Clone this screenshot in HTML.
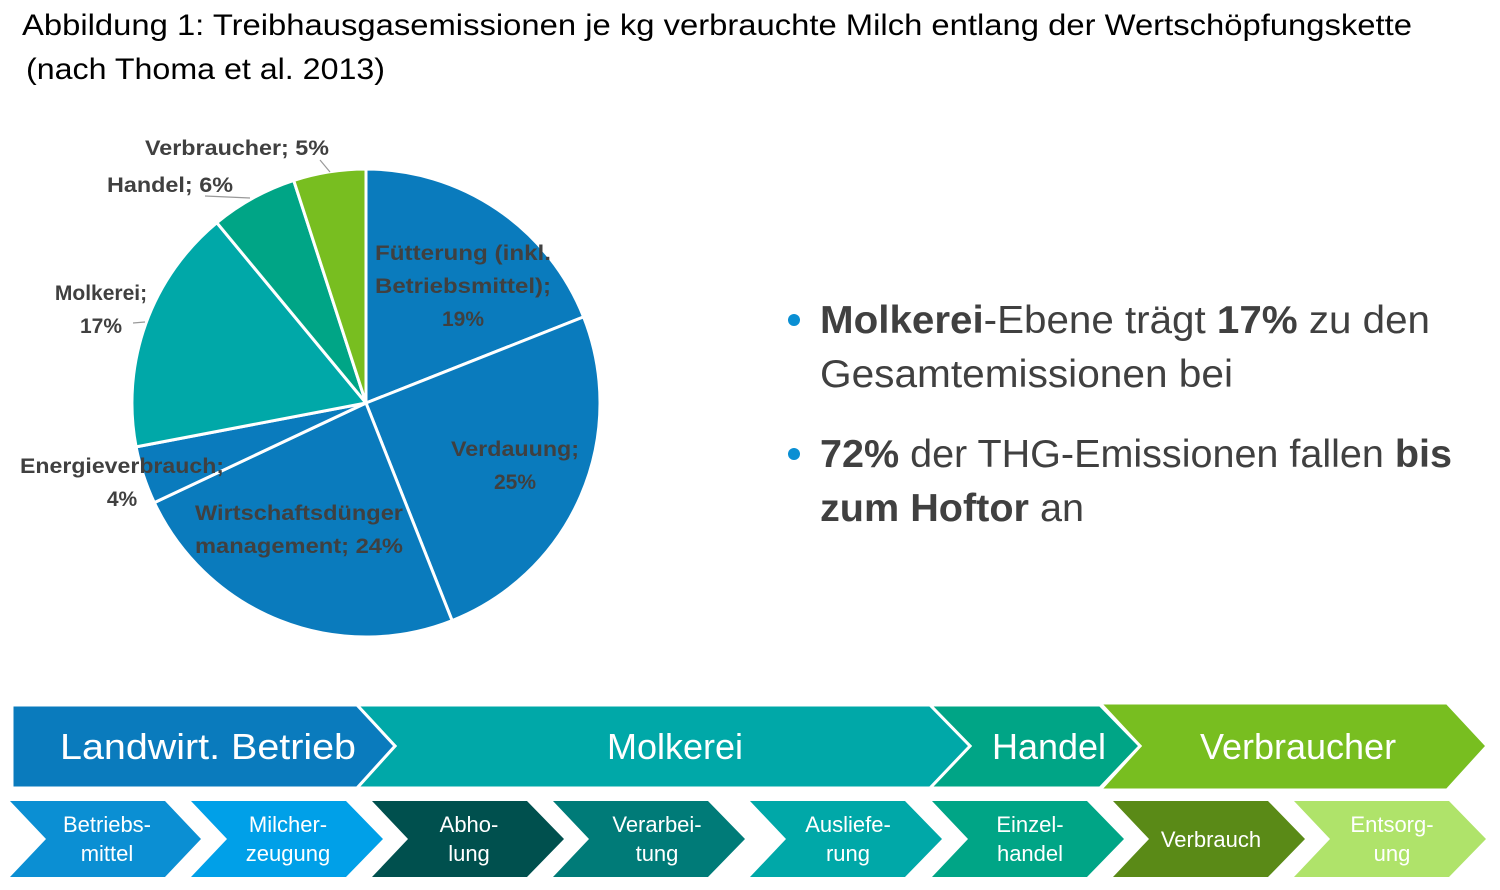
<!DOCTYPE html>
<html><head><meta charset="utf-8"><style>
html,body{margin:0;padding:0;background:#fff;}
body{width:1500px;height:890px;overflow:hidden;position:relative;font-family:"Liberation Sans","DejaVu Sans",sans-serif;}
</style></head><body>
<svg width="1500" height="890" viewBox="0 0 1500 890" xmlns="http://www.w3.org/2000/svg" style="position:absolute;left:0;top:0">
<g font-family="Liberation Sans, DejaVu Sans, sans-serif">
<text x="22" y="35" font-size="30" fill="#000" textLength="1390" lengthAdjust="spacingAndGlyphs">Abbildung 1: Treibhausgasemissionen je kg verbrauchte Milch entlang der  Wertschöpfungskette</text>
<text x="26" y="79" font-size="30" fill="#000" textLength="359" lengthAdjust="spacingAndGlyphs">(nach Thoma et al. 2013)</text>

<g stroke="#fff" stroke-width="3" stroke-linejoin="round">
<path d="M366 403 L366 169 A234 234 0 0 1 583.6 316.9 Z" fill="#0a7bbd"/>
<path d="M366 403 L583.6 316.9 A234 234 0 0 1 452.1 620.6 Z" fill="#0a7bbd"/>
<path d="M366 403 L452.1 620.6 A234 234 0 0 1 154.3 502.6 Z" fill="#0a7bbd"/>
<path d="M366 403 L154.3 502.6 A234 234 0 0 1 136.1 446.9 Z" fill="#0a7bbd"/>
<path d="M366 403 L136.1 446.9 A234 234 0 0 1 216.8 222.7 Z" fill="#00a8a8"/>
<path d="M366 403 L216.8 222.7 A234 234 0 0 1 293.7 180.4 Z" fill="#00a586"/>
<path d="M366 403 L293.7 180.4 A234 234 0 0 1 366 169 Z" fill="#78be20"/>
</g>
<g stroke="#999" stroke-width="1.2" fill="none">
<path d="M205 196 L250 198"/><path d="M320 160 L330 172"/><path d="M133 323 L145 322"/>
</g>
<g font-size="21" font-weight="bold" fill="#404040" text-anchor="middle">
<text x="237" y="155" textLength="184" lengthAdjust="spacingAndGlyphs">Verbraucher; 5%</text>
<text x="170" y="192" textLength="126" lengthAdjust="spacingAndGlyphs">Handel; 6%</text>
<text x="101" y="300">Molkerei;</text>
<text x="101" y="333">17%</text>
<text x="122" y="473" textLength="204" lengthAdjust="spacingAndGlyphs">Energieverbrauch;</text>
<text x="122" y="506">4%</text>
<text x="463" y="260" textLength="176" lengthAdjust="spacingAndGlyphs">Fütterung (inkl.</text>
<text x="463" y="293" textLength="176" lengthAdjust="spacingAndGlyphs">Betriebsmittel);</text>
<text x="463" y="326">19%</text>
<text x="515" y="456" textLength="128" lengthAdjust="spacingAndGlyphs">Verdauung;</text>
<text x="515" y="489">25%</text>
<text x="299" y="520" textLength="208" lengthAdjust="spacingAndGlyphs">Wirtschaftsdünger</text>
<text x="299" y="553" textLength="208" lengthAdjust="spacingAndGlyphs">management; 24%</text>
</g>

<g font-size="39" fill="#404040">
<circle cx="794" cy="320" r="6" fill="#0a8fd3"/>
<text x="820" y="333" textLength="610" lengthAdjust="spacingAndGlyphs"><tspan font-weight="bold">Molkerei</tspan>-Ebene trägt <tspan font-weight="bold">17%</tspan> zu den</text>
<text x="820" y="387" textLength="413" lengthAdjust="spacingAndGlyphs">Gesamtemissionen bei</text>
<circle cx="794" cy="454" r="6" fill="#0a8fd3"/>
<text x="820" y="467" textLength="632" lengthAdjust="spacingAndGlyphs"><tspan font-weight="bold">72%</tspan> der THG-Emissionen fallen <tspan font-weight="bold">bis</tspan></text>
<text x="820" y="521" textLength="264" lengthAdjust="spacingAndGlyphs"><tspan font-weight="bold">zum Hoftor</tspan> an</text>
</g>

<g stroke="#fff" stroke-width="3">
<path d="M1100 703 L1447 703 L1487 746 L1447 790 L1100 790 L1140 746 Z" fill="#78be20"/>
<path d="M930 705 L1100 705 L1140 746 L1100 788 L930 788 L970 746 Z" fill="#00a586"/>
<path d="M357 705 L930 705 L970 746 L930 788 L357 788 L395 746 Z" fill="#00a8a8"/>
<path d="M12 705 L357 705 L395 746 L357 788 L12 788 Z" fill="#0a7bbd"/>
</g>
<g font-size="36" fill="#fff" text-anchor="middle">
<text x="208" y="759" textLength="296" lengthAdjust="spacingAndGlyphs">Landwirt. Betrieb</text>
<text x="675" y="759">Molkerei</text>
<text x="1049" y="759">Handel</text>
<text x="1298" y="759">Verbraucher</text>
</g>

<g>
<path d="M10 801 L165 801 L201 839 L165 877 L10 877 L46 839 Z" fill="#0b8fd3"/>
<path d="M191 801 L346 801 L383 839 L346 877 L191 877 L227 839 Z" fill="#00a0e8"/>
<path d="M372 801 L527 801 L564 839 L527 877 L372 877 L408 839 Z" fill="#00504e"/>
<path d="M553 801 L708 801 L745 839 L708 877 L553 877 L589 839 Z" fill="#007b78"/>
<path d="M750 801 L905 801 L942 839 L905 877 L750 877 L786 839 Z" fill="#00a8a8"/>
<path d="M932 801 L1087 801 L1124 839 L1087 877 L932 877 L968 839 Z" fill="#00a586"/>
<path d="M1113 801 L1268 801 L1305 839 L1268 877 L1113 877 L1149 839 Z" fill="#5a8a17"/>
<path d="M1294 801 L1449 801 L1486 839 L1449 877 L1294 877 L1330 839 Z" fill="#afe36a"/>
</g>
<g font-size="22" fill="#fff" text-anchor="middle">
<text x="107" y="832">Betriebs-</text><text x="107" y="861">mittel</text>
<text x="288" y="832">Milcher-</text><text x="288" y="861">zeugung</text>
<text x="469" y="832">Abho-</text><text x="469" y="861">lung</text>
<text x="657" y="832">Verarbei-</text><text x="657" y="861">tung</text>
<text x="848" y="832">Ausliefe-</text><text x="848" y="861">rung</text>
<text x="1030" y="832">Einzel-</text><text x="1030" y="861">handel</text>
<text x="1211" y="847">Verbrauch</text>
<text x="1392" y="832">Entsorg-</text><text x="1392" y="861">ung</text>
</g>
</g>
</svg>
</body></html>
